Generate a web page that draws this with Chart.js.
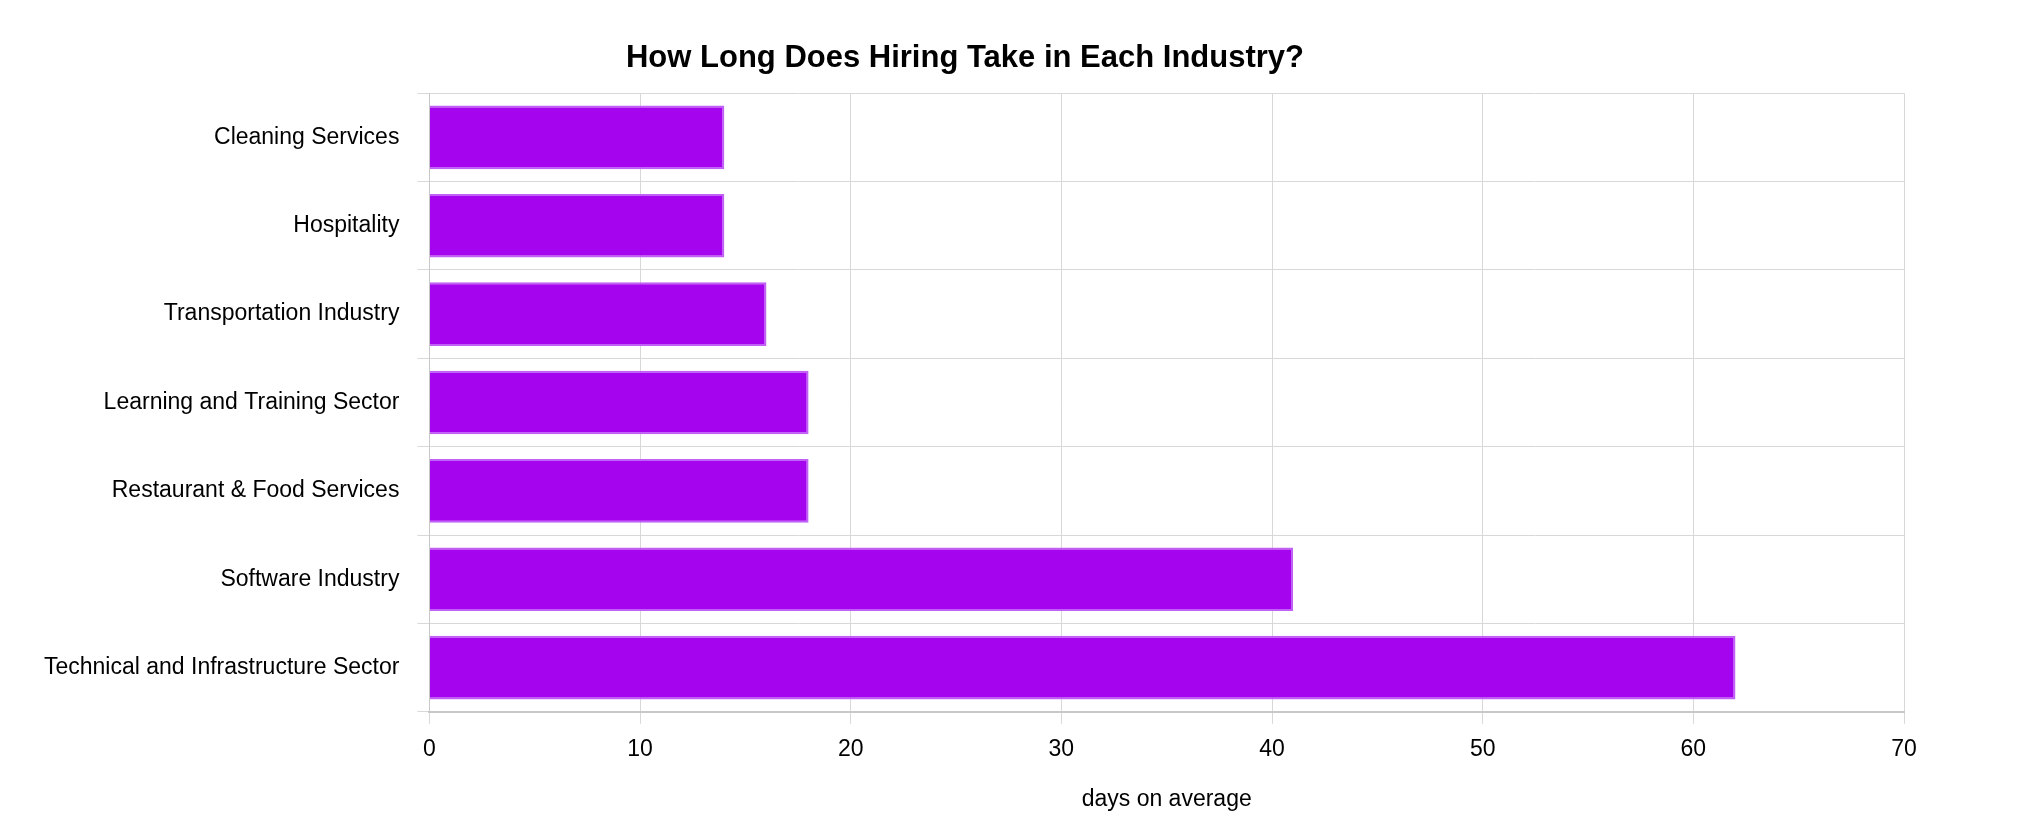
<!DOCTYPE html>
<html><head><meta charset="utf-8">
<script src="https://cdn.jsdelivr.net/npm/chart.js@4"></script>
<style>html,body{margin:0;background:#fff}#wrap{width:2024px;height:832px}</style>
</head><body><div id="wrap"><canvas id="c"></canvas></div>
<script>
const categories = ["Cleaning Services","Hospitality","Transportation Industry","Learning and Training Sector","Restaurant & Food Services","Software Industry","Technical and Infrastructure Sector"];
const days = [14,14,16,18,18,41,62];
const xTicks = [0,10,20,30,40,50,60,70];
Chart.defaults.font.family = "Liberation Sans, Arial, sans-serif";
Chart.defaults.color = "#000";
new Chart(document.getElementById('c'), {
  type: 'bar',
  data: { labels: categories, datasets: [{ data: days, backgroundColor: '#a505ee', borderColor: '#c060f5', borderWidth: 2, categoryPercentage: 0.72, barPercentage: 1 }] },
  options: {
    indexAxis: 'y', responsive: true, maintainAspectRatio: false, animation: false,
    layout: { padding: { left: 26, right: 120, top: 20, bottom: 15 } },
    plugins: { legend: { display: false }, tooltip: { enabled: false },
      title: { display: true, text: 'How Long Does Hiring Take in Each Industry?', font: { size: 31, weight: 'bold' }, color: '#000', padding: { top: 20, bottom: 16 } } },
    scales: {
      x: { min: 0, max: 70, afterBuildTicks: a => { a.ticks = xTicks.map(v => ({ value: v })); },
        ticks: { font: { size: 23 }, padding: 12 }, grid: { color: '#d8d8d8', tickLength: 12 }, border: { color: '#c8c8c8', width: 2 },
        title: { display: true, text: 'days on average', font: { size: 23 }, padding: { top: 10 } } },
      y: { ticks: { font: { size: 23 }, padding: 18 }, grid: { color: '#d8d8d8', tickLength: 12, offset: true }, border: { color: '#c8c8c8' } }
    }
  }
});
</script></body></html>
